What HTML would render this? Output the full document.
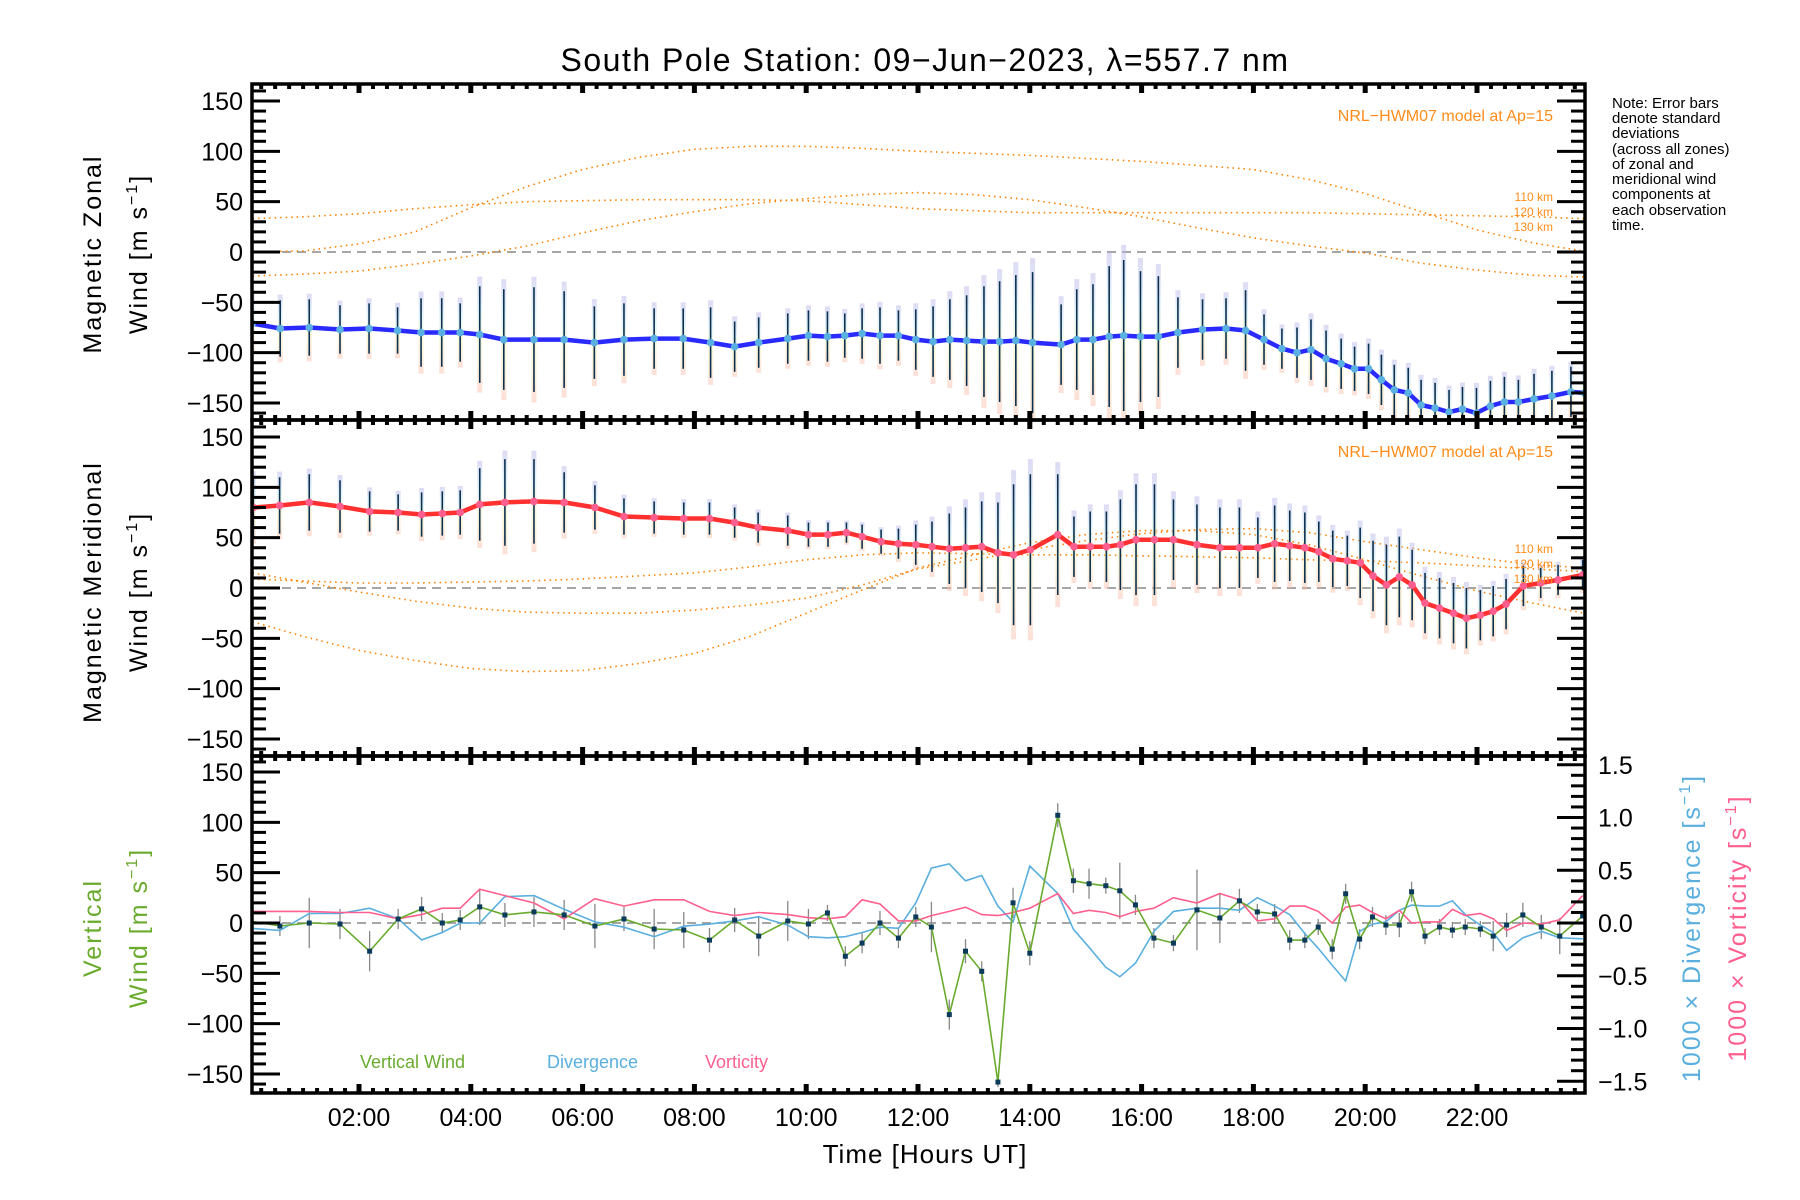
<!DOCTYPE html>
<html><head><meta charset="utf-8"><title>South Pole Station winds</title>
<style>
html,body{margin:0;padding:0;background:#fff;}
svg{display:block;font-family:"Liberation Sans",sans-serif;}
</style></head>
<body>
<svg id="chart" width="1800" height="1200" viewBox="0 0 1800 1200" xmlns="http://www.w3.org/2000/svg">
<defs>
<linearGradient id="zoneGrad" x1="0" y1="0" x2="0" y2="1">
<stop offset="0" stop-color="#b4aee6"/><stop offset="0.3" stop-color="#bfe6f2"/><stop offset="0.55" stop-color="#eef0b0"/><stop offset="0.8" stop-color="#f9d9a8"/><stop offset="1" stop-color="#f7b8a8"/>
</linearGradient>
<clipPath id="c1"><rect x="252" y="84" width="1333" height="336"/></clipPath>
<clipPath id="c2"><rect x="252" y="420" width="1333" height="336"/></clipPath>
<clipPath id="c3"><rect x="252" y="756" width="1333" height="337"/></clipPath>
</defs>
<text x="925" y="71" font-size="32" text-anchor="middle" letter-spacing="1.5">South Pole Station: 09−Jun−2023, λ=557.7 nm</text>
<g id="g1" clip-path="url(#c1)"></g>
<g id="g2" clip-path="url(#c2)"></g>
<g id="g3" clip-path="url(#c3)"></g>
<g id="axes"></g>
<text transform="translate(101,254) rotate(-90)" font-size="25" text-anchor="middle" letter-spacing="2">Magnetic Zonal</text>
<text transform="translate(147,254) rotate(-90)" font-size="25" text-anchor="middle" letter-spacing="2">Wind [m s<tspan dy="-10" font-size="16">−1</tspan><tspan dy="10">]</tspan></text>
<text transform="translate(101,592) rotate(-90)" font-size="25" text-anchor="middle" letter-spacing="2">Magnetic Meridional</text>
<text transform="translate(147,592) rotate(-90)" font-size="25" text-anchor="middle" letter-spacing="2">Wind [m s<tspan dy="-10" font-size="16">−1</tspan><tspan dy="10">]</tspan></text>
<text transform="translate(101,928) rotate(-90)" font-size="25" text-anchor="middle" fill="#6aab2e" letter-spacing="2">Vertical</text>
<text transform="translate(147,928) rotate(-90)" font-size="25" text-anchor="middle" fill="#6aab2e" letter-spacing="2">Wind [m s<tspan dy="-10" font-size="16">−1</tspan><tspan dy="10">]</tspan></text>
<text transform="translate(1700,928) rotate(-90)" font-size="25" text-anchor="middle" fill="#5aafdf" letter-spacing="2">1000 × Divergence [s<tspan dy="-10" font-size="16">−1</tspan><tspan dy="10">]</tspan></text>
<text transform="translate(1746,928) rotate(-90)" font-size="25" text-anchor="middle" fill="#ff5f8f" letter-spacing="2">1000 × Vorticity [s<tspan dy="-10" font-size="16">−1</tspan><tspan dy="10">]</tspan></text>
<text x="925" y="1163" font-size="26" text-anchor="middle" letter-spacing="1">Time [Hours UT]</text>
<g font-size="15" fill="#000">
<text x="1612" y="108">Note: Error bars</text>
<text x="1612" y="123">denote standard</text>
<text x="1612" y="138">deviations</text>
<text x="1612" y="154">(across all zones)</text>
<text x="1612" y="169">of zonal and</text>
<text x="1612" y="184">meridional wind</text>
<text x="1612" y="199">components at</text>
<text x="1612" y="215">each observation</text>
<text x="1612" y="230">time.</text>
</g>
<g fill="#ff8c1a">
<text x="1553" y="121" font-size="16" text-anchor="end">NRL−HWM07 model at Ap=15</text>
<text x="1553" y="201" font-size="12" text-anchor="end">110 km</text>
<text x="1553" y="216" font-size="12" text-anchor="end">120 km</text>
<text x="1553" y="231" font-size="12" text-anchor="end">130 km</text>
<text x="1553" y="457" font-size="16" text-anchor="end">NRL−HWM07 model at Ap=15</text>
<text x="1553" y="553" font-size="12" text-anchor="end">110 km</text>
<text x="1553" y="568" font-size="12" text-anchor="end">120 km</text>
<text x="1553" y="583" font-size="12" text-anchor="end">130 km</text>
</g>
<text x="360" y="1068" font-size="18" fill="#6aab2e">Vertical Wind</text>
<text x="547" y="1068" font-size="18" fill="#5aafdf">Divergence</text>
<text x="705" y="1068" font-size="18" fill="#ff5f8f">Vorticity</text>
</svg>
<script>
// ---- data ----
const zonalTimes=[0.09,0.59,1.11,1.66,2.18,2.69,3.11,3.48,3.81,4.16,4.59,5.13,5.67,6.21,6.74,7.28,7.80,8.29,8.72,9.15,9.67,10.04,10.38,10.69,11.0,11.32,11.65,11.96,12.27,12.57,12.87,13.18,13.46,13.75,14.05,14.56,14.84,15.13,15.42,15.68,15.98,16.30,16.65,17.09,17.51,17.86,18.19,18.51,18.78,19.03,19.30,19.57,19.81,20.06,20.29,20.52,20.77,21.0,21.25,21.5,21.74,21.99,22.24,22.49,22.74,23.02,23.34,23.68,23.92];
const zonalWind=[-71,-76,-75,-77,-76,-78,-80,-80,-80,-82,-87,-87,-87,-90,-87,-86,-86,-90,-94,-90,-86,-83,-84,-83,-81,-83,-83,-87,-89,-87,-88,-89,-89,-88,-90,-92,-87,-87,-84,-83,-84,-84,-80,-77,-76,-78,-87,-96,-100,-97,-106,-111,-116,-116,-127,-137,-140,-152,-155,-159,-156,-160,-153,-149,-149,-146,-143,-139,-140];
const zonalSigma=[25,28,28,24,25,23,34,34,29,48,50,52,48,36,36,30,30,35,25,25,25,25,25,22,25,28,25,30,35,40,45,55,60,65,70,40,50,55,70,75,65,60,35,30,30,40,25,20,25,30,28,25,22,25,25,25,25,25,25,22,22,25,25,25,22,25,25,25,25];
const merTimes=[0.11,0.58,1.11,1.66,2.19,2.70,3.12,3.49,3.81,4.16,4.61,5.13,5.67,6.22,6.74,7.28,7.81,8.27,8.72,9.14,9.67,10.04,10.39,10.72,11.00,11.34,11.65,11.96,12.25,12.56,12.85,13.14,13.43,13.71,14.01,14.50,14.79,15.08,15.37,15.62,15.90,16.23,16.57,16.99,17.40,17.75,18.08,18.38,18.65,18.92,19.17,19.42,19.68,19.91,20.14,20.38,20.61,20.84,21.07,21.33,21.58,21.81,22.06,22.29,22.52,22.83,23.14,23.45,23.89];
const merWind=[80,82,85,81,76,75,73,74,75,83,85,86,85,80,71,70,69,69,65,60,57,53,53,55,51,46,44,43,41,39,40,41,35,33,38,53,41,41,41,43,48,48,48,43,40,40,40,44,42,40,36,29,27,25,12,3,11,3,-15,-20,-25,-30,-27,-23,-16,2,5,8,13];
const merSigma=[30,28,28,26,20,18,22,22,22,36,43,42,30,22,18,16,16,16,15,15,15,12,12,10,12,12,15,20,25,35,40,45,50,70,75,60,30,35,35,45,55,55,40,40,40,40,30,38,35,35,30,28,25,35,35,40,40,35,30,30,30,30,25,25,25,20,15,15,15];
const vertTimes=[0.05,0.585,1.11,1.66,2.19,2.70,3.12,3.49,3.81,4.16,4.61,5.13,5.67,6.22,6.74,7.28,7.81,8.27,8.72,9.15,9.67,10.04,10.38,10.70,11.00,11.32,11.65,11.96,12.24,12.56,12.85,13.14,13.43,13.70,14.0,14.50,14.78,15.06,15.36,15.61,15.89,16.22,16.57,16.99,17.40,17.75,18.07,18.38,18.65,18.92,19.16,19.41,19.65,19.90,20.13,20.37,20.61,20.83,21.07,21.33,21.56,21.79,22.06,22.29,22.53,22.82,23.15,23.48,23.89];
const vertWind=[2,-3,0,-1,-28,4,14,0,3,16,8,11,8,-3,4,-6,-7,-17,3,-13,2,-1,10,-33,-20,0,-15,6,-4,-91,-28,-48,-158,20,-30,107,42,39,37,32,18,-15,-20,13,5,22,11,9,-17,-17,-4,-26,29,-16,6,-2,-2,31,-13,-4,-7,-4,-6,-13,-2,8,-4,-13,7];
const vertSigma=[0,10,25,15,20,10,12,10,10,18,12,15,15,22,12,20,18,12,12,20,20,15,8,10,10,12,10,10,25,15,12,10,5,15,12,12,12,15,8,28,10,10,8,40,25,12,8,10,10,8,8,10,10,10,10,10,12,10,8,8,8,8,8,15,12,12,12,18,0];
const divergence=[-0.05,-0.07,0.09,0.09,0.14,0.04,-0.16,-0.09,0,0,0.25,0.26,0.13,0.01,-0.04,-0.13,-0.03,-0.01,0.02,0.06,-0.02,-0.13,-0.14,-0.13,-0.09,-0.04,-0.05,0.19,0.52,0.56,0.40,0.45,0.16,0.01,0.54,0.28,-0.06,-0.23,-0.42,-0.51,-0.38,-0.08,0.11,0.14,0.14,0.12,0.24,0.16,0.08,-0.10,-0.24,-0.40,-0.55,-0.08,-0.01,0.01,0.12,0.17,0.16,0.16,0.21,0.08,-0.02,-0.09,-0.26,-0.14,-0.08,-0.14,-0.15];
const vorticity=[0.11,0.11,0.11,0.10,0.10,0.04,0.08,0.14,0.14,0.32,0.26,0.19,0.04,0.23,0.16,0.22,0.22,0.11,0.07,0.10,0.08,0.05,0.04,0.06,0.22,0.18,0.02,0.02,0.07,0.11,0.15,0.08,0.07,0.10,0.14,0.28,0.09,0.12,0.10,0.06,0.11,0.14,0.24,0.19,0.28,0.22,0.02,0.04,0.16,0.16,0.11,0,0.15,0.17,0.10,0.04,0.12,0,0.01,0.01,0.13,0.07,0.09,0.04,-0.07,0,-0.01,0.03,0.26];
const modelHours=[0,1,2,3,4,5,6,7,8,9,10,11,12,13,14,15,16,17,18,19,20,21,22,23,24];
const zonalModelA=[-24,-22,-19,-12,-4,6,19,31,40,48,53,57,59,57,52,44,35,24,14,6,-1,-11,-18,-23,-25];
const zonalModelB=[0,1,8,20,44,65,82,94,102,105,105,103,100,98,96,93,90,86,82,72,58,40,22,9,0];
const zonalModelC=[33,35,38,43,47,50,51,52,52,52,51,47,43,41,39,39,39,39,39,39,38,37,36,35,33];
const merModelA=[-32,-48,-62,-72,-80,-83,-82,-75,-65,-48,-25,-2,20,33,45,53,57,57,53,43,28,12,-3,-15,-26];
const merModelB=[16,6,-4,-13,-20,-24,-25,-25,-22,-17,-10,3,19,28,38,47,54,58,59,55,46,38,30,23,20];
const merModelC=[9,7,5,5,6,7,9,12,15,21,28,33,35,34,33,33,32,31,30,28,27,25,22,19,16];
const tickHours=[2,4,6,8,10,12,14,16,18,20,22];
const tickLabels=["02:00","04:00","06:00","08:00","10:00","12:00","14:00","16:00","18:00","20:00","22:00"];
const leftTicks=[-150,-100,-50,0,50,100,150];
const rightTicks=[-1.5,-1.0,-0.5,0.0,0.5,1.0,1.5];

// ---- scales ----
const L=252,R=1585;
const panels=[{top:84,bot:420,y0:252},{top:420,bot:756,y0:588},{top:756,bot:1093,y0:923}];
const K=1.0067, KR=105.5;
function xs(t){return 247.2+55.9*t;}
function ys(p,v){return panels[p].y0-v*K;}
function yr(v){return panels[2].y0-v*KR;}
const NS="http://www.w3.org/2000/svg";
function mk(tag,attrs,parent){const e=document.createElementNS(NS,tag);for(const k in attrs)e.setAttribute(k,attrs[k]);parent.appendChild(e);return e;}
const g1=document.getElementById('g1'),g2=document.getElementById('g2'),g3=document.getElementById('g3'),ax=document.getElementById('axes');
const G=[g1,g2,g3];

function poly(g,ts,vs,yf,stroke,w,dash,name){
  const pts=ts.map((t,i)=>xs(t).toFixed(1)+','+yf(vs[i]).toFixed(1)).join(' ');
  const e=mk('polyline',{points:pts,fill:'none',stroke:stroke,'stroke-width':w},g);
  if(dash)e.setAttribute('stroke-dasharray',dash);
  
  
  return e;
}
for(let p=0;p<3;p++){
  const z=mk('line',{x1:L,x2:R,y1:panels[p].y0,y2:panels[p].y0,stroke:'#888','stroke-width':1.5,'stroke-dasharray':'9,6'},G[p]);
  
  
}
[[zonalModelA,0,'zonal-model-110km'],[zonalModelB,0,'zonal-model-120km'],[zonalModelC,0,'zonal-model-130km'],[merModelA,1,'meridional-model-110km'],[merModelB,1,'meridional-model-120km'],[merModelC,1,'meridional-model-130km']].forEach(m=>{
  poly(G[m[1]],modelHours,m[0],v=>ys(m[1],v),'#ff8000',1.6,'1.5,4',m[2]);
});
function windPanel(p,ts,vs,ss,lineCol,dotCol,name){
  const g=G[p];
  ts.forEach((t,i)=>{
    const x=xs(t);
    const r=mk('rect',{x:x-2.5,y:ys(p,vs[i]+ss[i]*1.2),width:5,height:ss[i]*2.4*K,fill:'url(#zoneGrad)',opacity:0.45},g);
    
    
  });
  ts.forEach((t,i)=>{
    const x=xs(t);
    const e=mk('line',{x1:x,x2:x,y1:ys(p,vs[i]-ss[i]),y2:ys(p,vs[i]+ss[i]),stroke:'#0b3050','stroke-width':1.6},g);
    
    
  });
  poly(g,ts,vs,v=>ys(p,v),lineCol,4.5,null,name+'-line');
  ts.forEach((t,i)=>{
    const c=mk('circle',{cx:xs(t),cy:ys(p,vs[i]),r:3.8,fill:dotCol},g);
    
    
  });
}
windPanel(0,zonalTimes,zonalWind,zonalSigma,'#2a2aff','#5ab0e0','zonal-wind');
windPanel(1,merTimes,merWind,merSigma,'#ff3030','#ff5f8f','meridional-wind');
vertTimes.forEach((t,i)=>{
  if(!vertSigma[i])return;
  const e=mk('line',{x1:xs(t),x2:xs(t),y1:ys(2,vertWind[i]-vertSigma[i]),y2:ys(2,vertWind[i]+vertSigma[i]),stroke:'#888','stroke-width':1.3},g3);
  
  
});
poly(g3,vertTimes,divergence,yr,'#5aafdf',1.6,null,'divergence-line');
poly(g3,vertTimes,vorticity,yr,'#ff5f8f',1.6,null,'vorticity-line');
poly(g3,vertTimes,vertWind,v=>ys(2,v),'#6aab2e',1.6,null,'vertical-wind-line');
vertTimes.forEach((t,i)=>{
  const s=mk('rect',{x:xs(t)-2.5,y:ys(2,vertWind[i])-2.5,width:5,height:5,fill:'#0b3a5a'},g3);
  
  
});

for(let p=0;p<3;p++){
  const P=panels[p];
  for(let v=-160;v<=160;v+=10){
    const y=ys(p,v); if(y<P.top+2||y>P.bot-2)continue;
    const len=(v%50===0)?28:14;
    const a=mk('line',{x1:L,x2:L+len,y1:y,y2:y,stroke:'#000','stroke-width':3},ax);
    
    
    if(p<2){
      const b=mk('line',{x1:R,x2:R-len,y1:y,y2:y,stroke:'#000','stroke-width':3},ax);
      
      
    }
  }
  leftTicks.forEach(v=>{
    const tx=mk('text',{x:243,y:ys(p,v)+9,'font-size':25,'text-anchor':'end'},ax);
    tx.textContent=(v<0?'−':'')+Math.abs(v);
    
    
  });
  for(let m=0;m<=24*4;m++){
    const t=m/4, x=xs(t); if(x<L+3||x>R-3)continue;
    const major=(m%8===0);
    const len=major?9:5;
    [[P.top,1],[P.bot,-1]].forEach(([y,d])=>{
      const e=mk('line',{x1:x,x2:x,y1:y,y2:y+d*len,stroke:'#000','stroke-width':major?5:4},ax);
      
      
    });
  }
  const fr=mk('rect',{x:L,y:P.top,width:R-L,height:P.bot-P.top,fill:'none',stroke:'#000','stroke-width':3.5},ax);
  
  
}
for(let i=-16;i<=16;i++){
  const v=i/10, y=yr(v); if(y<panels[2].top+2||y>panels[2].bot-2)continue;
  const len=(i%5===0)?28:14;
  const e=mk('line',{x1:R,x2:R-len,y1:y,y2:y,stroke:'#000','stroke-width':3},ax);
  
  
}
rightTicks.forEach(v=>{
  const tx=mk('text',{x:1598,y:yr(v)+9,'font-size':25},ax);
  tx.textContent=(v<0?'−':'')+Math.abs(v).toFixed(1);
  
  
});
tickHours.forEach((h,i)=>{
  const tx=mk('text',{x:xs(h),y:1126,'font-size':25,'text-anchor':'middle'},ax);
  tx.textContent=tickLabels[i];
  
  
});
</script>
</body></html>
